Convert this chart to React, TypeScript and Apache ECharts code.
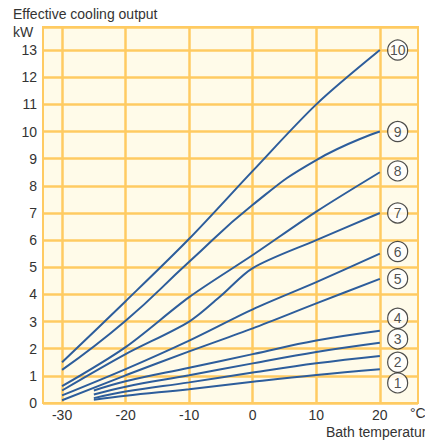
import React, { useEffect, useRef } from "react";
import * as echarts from "echarts";

const X_LONG = [-30, -20, -10, 0, 10, 20];
const X_SHORT = [-25, -20, -10, 0, 10, 20];
const X_C7 = [-30, -20, -10, -5, 0, 10, 20];

const C10 = [1.5, 3.75, 6.05, 8.55, 11.0, 13.0];
const C9 = [1.22, 3.03, 5.2, 7.3, 8.95, 10.0];
const C8 = [0.62, 2.06, 3.9, 5.45, 7.05, 8.5];
const C7 = [0.46, 1.8, 3.0, 3.95, 4.97, 6.0, 7.0];
const C6 = [0.28, 1.25, 2.3, 3.45, 4.45, 5.5];
const C5 = [0.1, 1.02, 1.9, 2.75, 3.67, 4.57];
const C4 = [0.46, 0.8, 1.3, 1.8, 2.3, 2.66];
const C3 = [0.31, 0.6, 1.02, 1.46, 1.88, 2.22];
const C2 = [0.18, 0.42, 0.76, 1.12, 1.46, 1.73];
const C1 = [0.12, 0.27, 0.51, 0.78, 1.03, 1.24];

const LABEL_NAMES = ["1", "2", "3", "4", "5", "6", "7", "8", "9", "10"];
const LABEL_Y = [0.74, 1.5, 2.36, 3.12, 4.58, 5.58, 7.0, 8.55, 10.0, 13.0];
const LABEL_X = 22.8;

const X_GRID = [-30, -20, -10, 0, 10, 20];

const FONT = "'Liberation Sans Narrow', 'Liberation Sans', Arial, sans-serif";
const GRID_COLOR = "#ffcb62";
const LINE_COLOR = "#2d5d9b";

function pairs(xs: number[], ys: number[]) {
  return xs.map((x, i) => [x, ys[i]]);
}

export default function App() {
  const ref = useRef<HTMLDivElement>(null);
  useEffect(() => {
    if (!ref.current) return;
    const chart = echarts.init(ref.current, null, { renderer: "svg" });
    const curves: [number[], number[], number][] = [
      [X_LONG, C10, 0.3],
      [X_LONG, C9, 0.5],
      [X_LONG, C8, 0.3],
      [X_C7, C7, 0.3],
      [X_LONG, C6, 0.3],
      [X_LONG, C5, 0.3],
      [X_SHORT, C4, 0.4],
      [X_SHORT, C3, 0.4],
      [X_SHORT, C2, 0.4],
      [X_SHORT, C1, 0.4],
    ];
    const lineSeries: any[] = curves.map(([xs, ys, sm], i) => ({
      type: "line",
      data: pairs(xs, ys),
      smooth: sm,
      showSymbol: false,
      lineStyle: { color: LINE_COLOR, width: 2 },
      z: 3,
      ...(i === 0
        ? {
            markLine: {
              silent: true,
              symbol: "none",
              label: { show: false },
              lineStyle: { color: GRID_COLOR, width: 2.5, type: "solid" },
              data: X_GRID.map((x) => ({ xAxis: x })),
              z: 1,
            },
          }
        : {}),
    }));
    chart.setOption({
      animation: false,
      grid: {
        left: 43,
        right: 7,
        top: 27,
        bottom: 38,
        show: true,
        backgroundColor: "#fffbe9",
        borderColor: GRID_COLOR,
        borderWidth: 2,
      },
      xAxis: {
        type: "value",
        min: -33,
        max: 26,
        interval: 1,
        axisLine: { show: false },
        axisTick: { show: false },
        splitLine: { show: false },
        axisLabel: {
          formatter: (v: number) => (v % 10 === 0 ? String(v) : ""),
          color: "#333",
          fontFamily: FONT,
          fontSize: 14,
          margin: 5,
          showMinLabel: false,
          showMaxLabel: false,
        },
      },
      yAxis: {
        type: "value",
        min: 0,
        max: 13.85,
        interval: 1,
        axisLine: { show: false },
        axisTick: { show: false },
        splitLine: { show: true, lineStyle: { color: GRID_COLOR, width: 2.5 } },
        axisLabel: {
          color: "#333",
          fontFamily: FONT,
          fontSize: 14,
          margin: 6,
          showMaxLabel: false,
        },
      },
      series: [
        ...lineSeries,
        {
          type: "scatter",
          data: LABEL_Y.map((y, i) => ({ value: [LABEL_X, y], name: LABEL_NAMES[i] })),
          symbol: "circle",
          symbolSize: 20,
          itemStyle: { color: "#ffffff", borderColor: "#222", borderWidth: 1.2 },
          label: {
            show: true,
            position: "inside",
            formatter: (p: any) => p.name,
            color: "#222",
            fontFamily: FONT,
            fontSize: 14,
          },
          z: 5,
        },
      ],
      graphic: [
        {
          type: "text",
          left: 13,
          top: 7,
          style: { text: "Effective cooling output", fill: "#333", font: `14px ${FONT}` },
        },
        {
          type: "text",
          left: 13,
          top: 25,
          style: { text: "kW", fill: "#333", font: `14px ${FONT}` },
        },
        {
          type: "text",
          left: 410,
          top: 406,
          style: { text: "°C", fill: "#333", font: `14px ${FONT}` },
        },
        {
          type: "text",
          left: 326,
          top: 425,
          style: { text: "Bath temperature", fill: "#333", font: `14px ${FONT}` },
        },
      ],
    });
    return () => chart.dispose();
  }, []);
  return <div ref={ref} style={{ width: 425, height: 441, position: "absolute", left: 0, top: 0 }} />;
}
